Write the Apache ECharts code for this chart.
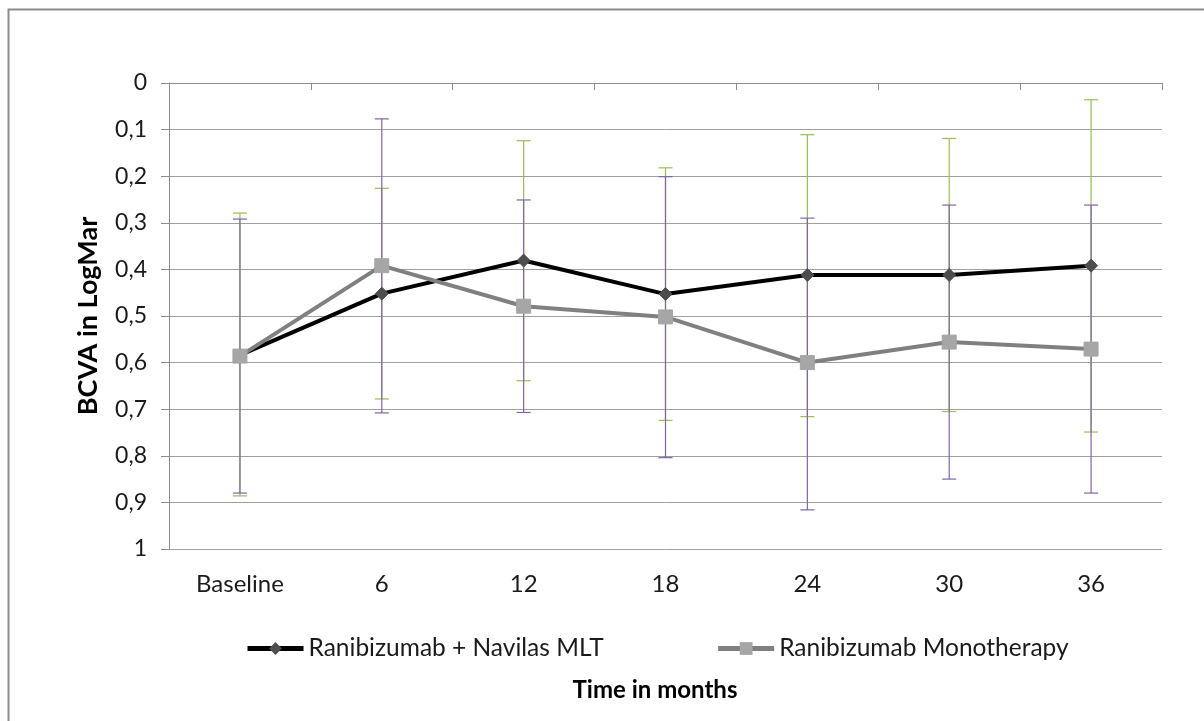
<!DOCTYPE html>
<html>
<head>
<meta charset="utf-8">
<script src="https://cdn.jsdelivr.net/npm/echarts@6/dist/echarts.min.js"></script>
<style>
html,body{margin:0;padding:0;background:#fff;}
#chart{width:1204px;height:721px;}
</style>
</head>
<body>
<div id="chart"></div>
<script>
var categories = ['Baseline', '6', '12', '18', '24', '30', '36'];
var navilasName = 'Ranibizumab + Navilas MLT';
var monoName = 'Ranibizumab Monotherapy';
var navilasValues = [0.584, 0.452, 0.381, 0.453, 0.412, 0.412, 0.392];
var monoValues = [0.586, 0.392, 0.479, 0.502, 0.600, 0.556, 0.571];
var navilasLow = [0.279, 0.226, 0.124, 0.182, 0.111, 0.119, 0.036];
var navilasHigh = [0.886, 0.678, 0.639, 0.724, 0.716, 0.705, 0.749];
var monoLow = [0.292, 0.077, 0.251, 0.201, 0.290, 0.262, 0.262];
var monoHigh = [0.880, 0.708, 0.707, 0.804, 0.916, 0.850, 0.880];
var yTitle = 'BCVA in LogMar';
var xTitle = 'Time in months';

var FONT = 'Lato, "Open Sans", sans-serif';

function errData(low, high) {
  return categories.map(function (c, i) { return [i, low[i], high[i]]; });
}
function errRender(color) {
  return function (params, api) {
    var i = api.value(0);
    var top = api.coord([i, api.value(1)]);
    var bot = api.coord([i, api.value(2)]);
    var hw = 7;
    var style = { stroke: color, lineWidth: 1.2, fill: null };
    return {
      type: 'group',
      children: [
        { type: 'line', shape: { x1: top[0], y1: top[1], x2: bot[0], y2: bot[1] }, style: style },
        { type: 'line', shape: { x1: top[0] - hw, y1: top[1], x2: top[0] + hw, y2: top[1] }, style: style },
        { type: 'line', shape: { x1: bot[0] - hw, y1: bot[1], x2: bot[0] + hw, y2: bot[1] }, style: style }
      ]
    };
  };
}

var chart = echarts.init(document.getElementById('chart'), null, { renderer: 'canvas' });
chart.setOption({
  backgroundColor: '#fff',
  animation: false,
  textStyle: { fontFamily: FONT },
  graphic: [
    {
      type: 'rect', left: 6, top: 7, silent: true,
      shape: { x: 0, y: 0, width: 1300, height: 800 },
      style: { fill: null, stroke: '#8c8c8c', lineWidth: 2 }
    },
    {
      type: 'text', x: 88, y: 316, rotation: Math.PI / 2, silent: true,
      style: {
        text: yTitle, fontFamily: FONT, fontSize: 27, fontWeight: 'bold', fill: '#000',
        align: 'center', verticalAlign: 'middle'
      }
    },
    {
      type: 'text', x: 655, y: 690, silent: true,
      style: {
        text: xTitle, fontFamily: FONT, fontSize: 24, fontWeight: 'bold', fill: '#000',
        align: 'center', verticalAlign: 'middle'
      }
    }
  ],
  grid: { left: 169, right: 42, top: 83, bottom: 172 },
  legend: {
    data: [navilasName, monoName],
    top: 631, left: 240,
    itemWidth: 56, itemHeight: 16, itemGap: 112,
    lineStyle: { width: 5 },
    textStyle: { fontFamily: FONT, fontSize: 24.5, color: '#1a1a1a' }
  },
  xAxis: {
    type: 'category', data: categories, boundaryGap: true,
    axisLine: { lineStyle: { color: '#8c8c8c', width: 1 } },
    axisTick: { show: true, length: 7, lineStyle: { color: '#8c8c8c' } },
    axisLabel: { fontFamily: FONT, fontSize: 24, color: '#1a1a1a', margin: 23 },
    splitLine: { show: false }
  },
  yAxis: {
    type: 'value', inverse: true, min: 0, max: 1, interval: 0.1,
    axisLine: { show: true, lineStyle: { color: '#8c8c8c', width: 1 } },
    axisTick: { show: true, length: 8, lineStyle: { color: '#8c8c8c' } },
    axisLabel: {
      fontFamily: FONT, fontSize: 23, color: '#1a1a1a', margin: 22,
      formatter: function (v) { return String(Math.round(v * 10) / 10).replace('.', ','); }
    },
    splitLine: { show: true, lineStyle: { color: '#a0a0a0', width: 1 } }
  },
  series: [
    {
      name: navilasName + ' error', type: 'custom', data: errData(navilasLow, navilasHigh),
      renderItem: errRender('#9bbb59'), z: 1, silent: true,
      encode: { x: 0, y: [1, 2] }
    },
    {
      name: monoName + ' error', type: 'custom', data: errData(monoLow, monoHigh),
      renderItem: errRender('#8064a2'), z: 1, silent: true,
      encode: { x: 0, y: [1, 2] }
    },
    {
      name: navilasName, type: 'line', data: navilasValues, z: 3,
      symbol: 'diamond', symbolSize: 13,
      lineStyle: { color: '#000', width: 4 },
      itemStyle: { color: '#4d4d4d', borderColor: '#4d4d4d' }
    },
    {
      name: monoName, type: 'line', data: monoValues, z: 4,
      symbol: 'rect', symbolSize: 14,
      lineStyle: { color: '#808080', width: 4 },
      itemStyle: { color: '#a6a6a6', borderColor: '#a6a6a6' }
    }
  ]
});
</script>
</body>
</html>
